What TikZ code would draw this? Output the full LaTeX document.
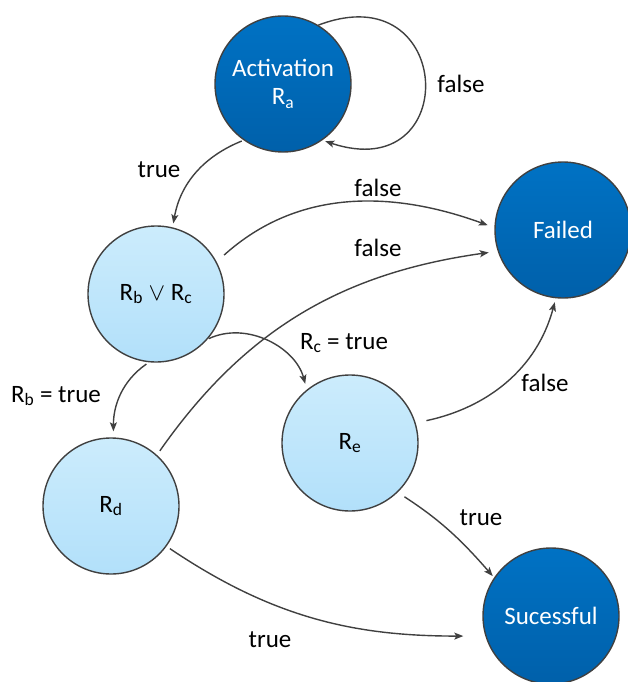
\documentclass[tikz,border=0pt]{standalone}
\usepackage{fontspec}
\setmainfont{Carlito}
\usetikzlibrary{arrows.meta}
\definecolor{darktop}{RGB}{0,114,196}
\definecolor{darkbot}{RGB}{0,96,170}
\definecolor{lighttop}{RGB}{204,236,252}
\definecolor{lightbot}{RGB}{178,224,250}
\definecolor{edgegray}{RGB}{64,64,64}
\begin{document}
\begin{tikzpicture}[x=1pt,y=-1pt,
  every node/.style={font=\fontsize{25}{30}\selectfont},
  state/.style={circle,minimum size=136pt,inner sep=0pt,draw=edgegray,line width=1.4pt},
  endstate/.style={state,top color=darktop,bottom color=darkbot,text=white},
  midstate/.style={state,top color=lighttop,bottom color=lightbot,text=black},
  trans/.style={draw=edgegray,line width=1.4pt,-{Stealth[length=9pt,width=7pt,inset=2pt]}},
  lbl/.style={text=black,inner sep=0pt}]
\useasboundingbox (0,0) rectangle (627,682);

% states
\node[endstate,align=center] (ra) at (283,84) {Activation\\[-2pt]R\textsubscript{a}};
\node[endstate] (failed) at (563,230) {Failed};
\node[midstate] (rbc) at (156,294) {R\textsubscript{b} $\vee$ R\textsubscript{c}};
\node[midstate] (re) at (350,443) {R\textsubscript{e}};
\node[midstate] (rd) at (111,506) {R\textsubscript{d}};
\node[endstate] (suc) at (551,616) {Sucessful};

% transitions
\draw[trans,shorten >=3pt] (ra.59) .. controls (455,-27) and (463,187) .. (ra.-55);
\draw[trans,shorten <=2pt,shorten >=4pt] (ra.235) to[out=202,in=80] (rbc.76);
\draw[trans,shorten <=10pt,shorten >=7pt] (rbc.28) to[out=42,in=160] (failed.178);
\draw[trans,shorten <=5pt,shorten >=9pt] (rd.48) to[out=55,in=188] (failed.198);
\draw[trans,shorten <=1pt,shorten >=6pt] (rbc.-41) to[out=25,in=105] (re.129);
\draw[trans,shorten <=3pt,shorten >=6pt] (rbc.-96) to[out=215,in=90] (rd.88);
\draw[trans,shorten <=11pt,shorten >=4pt] (re.17) to[out=12,in=255] (failed.264);
\draw[trans,shorten <=8pt,shorten >=2pt] (re.-46) to[out=-33,in=131] (suc.146);
\draw[trans,shorten <=4pt,shorten >=22pt] (rd.-36) to[out=-34,in=180] (suc.197);

% transition labels
\node[lbl] (lloop) at (461,84) {false};
\node[lbl] (ltrue1) at (159,170) {true};
\node[lbl] (lfalse1) at (378,188) {false};
\node[lbl] (lfalse2) at (378,248) {false};
\node[lbl] (lrc) at (344,343) {R\textsubscript{c} = true};
\node[lbl] (lrb) at (56,396) {R\textsubscript{b} = true};
\node[lbl] (lfalse3) at (545,383) {false};
\node[lbl] (ltrue2) at (481,518) {true};
\node[lbl] (ltrue3) at (270,640) {true};
\end{tikzpicture}
\end{document}
